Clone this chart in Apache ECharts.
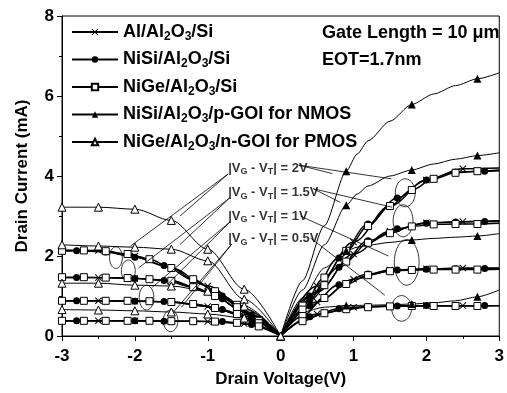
<!DOCTYPE html>
<html><head><meta charset="utf-8">
<script src="https://cdn.jsdelivr.net/npm/echarts@6/dist/echarts.min.js"></script>
<style>html,body{margin:0;padding:0;background:#fff}#c{width:507px;height:393px}</style>
</head><body><div id="c"></div><script>
// ---------- DATA ----------
// Legend names
const names = ['Al/Al2O3/Si', 'NiSi/Al2O3/Si', 'NiGe/Al2O3/Si', 'NiSi/Al2O3/p-GOI for NMOS', 'NiGe/Al2O3/n-GOI for PMOS'];

// NMOS side (positive drain voltage)
const xNsq = [0, 0.3, 0.6, 0.9, 1.2, 1.5, 1.8, 2.1, 2.4, 2.7, 3];
const nNiGe2  = [0, 0.76, 1.46, 2.13, 2.75, 3.25, 3.65, 3.93, 4.08, 4.12, 4.15];
const nNiGe15 = [0, 0.66, 1.27, 1.86, 2.33, 2.57, 2.74, 2.79, 2.80, 2.80, 2.82];
const nNiGe1  = [0, 0.50, 0.95, 1.30, 1.52, 1.62, 1.65, 1.66, 1.66, 1.66, 1.67];
const nNiGe05 = [0, 0.37, 0.57, 0.67, 0.72, 0.74, 0.75, 0.75, 0.75, 0.75, 0.76];

const xNci = [0, 0.4, 0.8, 1.2, 1.6, 2.0, 2.4, 2.8, 3];
const nNiSi2  = [0, 1.00, 1.95, 2.80, 3.45, 3.90, 4.10, 4.12, 4.13];
const nNiSi15 = [0, 0.90, 1.72, 2.38, 2.68, 2.82, 2.85, 2.86, 2.87];
const nNiSi1  = [0, 0.75, 1.28, 1.55, 1.65, 1.67, 1.68, 1.69, 1.69];
const nNiSi05 = [0, 0.48, 0.68, 0.74, 0.75, 0.76, 0.76, 0.76, 0.76];

const xNx = [0, 0.5, 1, 1.5, 2, 2.5, 3];
const nAl2  = [0, 1.25, 2.35, 3.25, 3.90, 4.18, 4.20];
const nAl15 = [0, 1.10, 2.05, 2.62, 2.83, 2.86, 2.88];
const nAl1  = [0, 0.85, 1.42, 1.65, 1.68, 1.70, 1.70];
const nAl05 = [0, 0.55, 0.72, 0.75, 0.76, 0.76, 0.76];

const xNtri = [0, 0.3, 0.6, 0.9, 1.05, 1.2, 1.5, 1.8, 2.1, 2.4, 2.7, 3];
const nGOI2  = [0, 1.38, 2.76, 4.12, 4.55, 4.88, 5.37, 5.79, 6.05, 6.26, 6.43, 6.58];
const nGOI15 = [0, 1.15, 2.28, 3.27, 3.55, 3.75, 4.00, 4.15, 4.30, 4.42, 4.51, 4.58];
const nGOI1  = [0, 0.95, 1.70, 2.13, 2.22, 2.27, 2.34, 2.40, 2.44, 2.47, 2.50, 2.56];
const nGOI05 = [0, 0.60, 0.72, 0.76, 0.765, 0.77, 0.78, 0.80, 0.83, 0.88, 0.98, 1.15];
const nGOImarks = [0.9, 1.8, 2.7];

// PMOS side (negative drain voltage, |Id|)
const xPsq = [-3, -2.7, -2.4, -2.1, -1.8, -1.5, -1.2, -0.9, -0.6, -0.3, 0];
const pNiGe2  = [2.13, 2.14, 2.12, 2.05, 1.92, 1.70, 1.42, 1.12, 0.78, 0.40, 0];
const pNiGe15 = [1.47, 1.47, 1.46, 1.45, 1.42, 1.38, 1.22, 1.00, 0.72, 0.38, 0];
const pNiGe1  = [0.88, 0.88, 0.88, 0.88, 0.87, 0.85, 0.80, 0.70, 0.55, 0.32, 0];
const pNiGe05 = [0.38, 0.38, 0.38, 0.38, 0.38, 0.37, 0.37, 0.36, 0.33, 0.24, 0];

const xPci = [-3, -2.8, -2.4, -2.0, -1.6, -1.2, -0.8, -0.4, 0];
const pNiSi2  = [2.12, 2.13, 2.10, 1.97, 1.76, 1.40, 1.00, 0.52, 0];
const pNiSi15 = [1.46, 1.46, 1.46, 1.44, 1.39, 1.22, 0.93, 0.50, 0];
const pNiSi1  = [0.88, 0.88, 0.88, 0.87, 0.86, 0.80, 0.66, 0.42, 0];
const pNiSi05 = [0.38, 0.38, 0.38, 0.38, 0.37, 0.37, 0.36, 0.29, 0];

const xPx = [-3, -2.5, -2, -1.5, -1, -0.5, 0];
const pAl2  = [2.15, 2.14, 2.00, 1.70, 1.25, 0.68, 0];
const pAl15 = [1.46, 1.46, 1.44, 1.38, 1.10, 0.62, 0];
const pAl1  = [0.88, 0.88, 0.87, 0.85, 0.74, 0.50, 0];
const pAl05 = [0.38, 0.38, 0.38, 0.37, 0.36, 0.31, 0];

const xPtri = [-3, -2.5, -2, -1.5, -1, -0.5, 0];
const pGOI2  = [3.22, 3.22, 3.17, 2.89, 2.17, 1.17, 0];
const pGOI15 = [2.28, 2.25, 2.22, 2.17, 1.88, 0.92, 0];
const pGOI1  = [1.32, 1.32, 1.27, 1.25, 1.12, 0.75, 0];
const pGOI05 = [0.66, 0.65, 0.63, 0.60, 0.55, 0.45, 0];

// Annotations
const biasLabels = ['2V', '1.5V', '1V', '0.5V'];
const biasLabelX = [-0.72, -0.72, -0.72, -0.72];
const biasLabelY = [4.20, 3.58, 3.00, 2.43];
const arrowLines = [
  [-0.72, 4.05, -1.38, 3.00], [-0.72, 4.05, -2.06, 2.25],
  [-0.70, 3.45, -1.38, 2.29], [-0.70, 3.45, -1.95, 1.70],
  [-0.69, 2.86, -1.55, 1.30], [-0.69, 2.86, -1.76, 1.22],
  [-0.67, 2.30, -1.36, 0.72], [-0.67, 2.30, -1.46, 0.62],
  [0.25, 4.27, 0.71, 4.06], [0.25, 4.27, 1.52, 3.93],
  [0.45, 3.68, 0.82, 3.34], [0.45, 3.68, 1.53, 3.22],
  [0.27, 3.00, 1.48, 2.00], [0.41, 2.45, 1.43, 1.02]
];
const ellipses = [
  [-2.26, 1.96, 0.088, 0.27], [-2.09, 1.63, 0.095, 0.27],
  [-1.84, 0.96, 0.10, 0.31], [-1.51, 0.38, 0.10, 0.27],
  [1.71, 3.58, 0.136, 0.35], [1.68, 2.88, 0.136, 0.40],
  [1.73, 1.84, 0.17, 0.57], [1.66, 0.69, 0.136, 0.32]
];

// ---------- CHART ----------
const FONT = '"Liberation Sans", Arial, sans-serif';
const crossPath = 'path://M0,1L1,0L5,4L9,0L10,1L6,5L10,9L9,10L5,6L1,10L0,9L4,5Z';
const sym = {
  x:   {symbol: crossPath, size: 7, fill: '#000', bw: 0},
  ci:  {symbol: 'circle', size: 7, fill: '#000', bw: 0},
  sq:  {symbol: 'rect', size: 7, fill: '#fff', bw: 1},
  tf:  {symbol: 'triangle', size: 8, fill: '#000', bw: 0},
  to:  {symbol: 'triangle', size: 8, fill: '#fff', bw: 1}
};
function mk(name, xs, ys, s, lw, show, sm) {
  return {
    type: 'line', name: name, smooth: sm, smoothMonotone: 'x',
    symbol: s.symbol, symbolSize: s.size, showAllSymbol: true,
    itemStyle: {color: s.fill, borderColor: '#000', borderWidth: s.bw},
    lineStyle: {color: '#000', width: lw},
    emphasis: {disabled: true},
    data: xs.map((x, i) => {
      const it = {value: [x, ys[i]]};
      if (!show(x)) it.symbol = 'none';
      return it;
    })
  };
}
const inner = x => x !== 0 && Math.abs(x) !== 3;
const series = [];
[nAl2, nAl15, nAl1, nAl05].forEach(ys => series.push(mk(names[0], xNx, ys, sym.x, 1.4, inner, 0.35)));
[pAl2, pAl15, pAl1, pAl05].forEach(ys => series.push(mk(names[0], xPx, ys, sym.x, 1.4, inner, 0.35)));
[nNiSi2, nNiSi15, nNiSi1, nNiSi05].forEach(ys => series.push(mk(names[1], xNci, ys, sym.ci, 1.4, inner, 0.35)));
[pNiSi2, pNiSi15, pNiSi1, pNiSi05].forEach(ys => series.push(mk(names[1], xPci, ys, sym.ci, 1.4, inner, 0.35)));
[nNiGe2, nNiGe15, nNiGe1, nNiGe05].forEach(ys => series.push(mk(names[2], xNsq, ys, sym.sq, 1.4, inner, 0.35)));
[pNiGe2, pNiGe15, pNiGe1, pNiGe05].forEach(ys => series.push(mk(names[2], xPsq, ys, sym.sq, 1.4, x => x !== 0, 0.35)));
[nGOI2, nGOI15, nGOI1, nGOI05].forEach(ys => series.push(mk(names[3], xNtri, ys, sym.tf, 1, x => nGOImarks.indexOf(x) >= 0, 0.25)));
[pGOI2, pGOI15, pGOI1, pGOI05].forEach(ys => series.push(mk(names[4], xPtri, ys, sym.to, 1, x => true, 0.3)));

// arrows
series.push({
  type: 'line', data: [], silent: true, symbol: 'none',
  markLine: {
    silent: true, animation: false, symbol: ['none', 'arrow'], symbolSize: [0, 7], precision: 4,
    label: {show: false}, emphasis: {disabled: true},
    lineStyle: {color: '#000', width: 0.8, type: 'solid'},
    data: arrowLines.map(a => [{coord: [a[0], a[1]]}, {coord: [a[2], a[3]]}])
  }
});
// ellipses
series.push({
  type: 'custom', silent: true, data: ellipses,
  renderItem: function (params, api) {
    const c = api.coord([api.value(0), api.value(1)]);
    const s = api.size([api.value(2), api.value(3)]);
    const pts = [];
    for (let k = 0; k < 48; k++) {
      const t = k / 48 * Math.PI * 2;
      pts.push([c[0] + s[0] * Math.cos(t), c[1] + s[1] * Math.sin(t)]);
    }
    return {type: 'polygon', shape: {points: pts}, style: {fill: 'none', stroke: '#000', lineWidth: 0.8}};
  }
});
// bias labels
series.push({
  type: 'scatter', silent: true, symbolSize: 0,
  data: biasLabels.map((t, i) => [biasLabelX[i], biasLabelY[i], t]),
  label: {
    show: true, position: 'right', distance: 0,
    formatter: p => '|V{s|G} - V{s|T}| = ' + p.value[2],
    fontFamily: FONT, fontSize: 13, fontWeight: 'bold', color: '#000',
    rich: {s: {fontFamily: FONT, fontSize: 9, fontWeight: 'bold', color: '#000', padding: [7, 0, 0, 0]}}
  }
});

const chart = echarts.init(document.getElementById('c'), null, {renderer: 'canvas'});
chart.setOption({
  animation: false,
  backgroundColor: '#fff',
  grid: {left: 62, top: 16, right: 3, bottom: 56, show: true, borderColor: '#000', borderWidth: 1, backgroundColor: 'transparent'},
  legend: {
    data: names, orient: 'vertical', left: 66, top: 18, itemGap: 8,
    itemWidth: 46, itemHeight: 8, selectedMode: false,
    formatter: n => n.replace('2O3', '{s|2}O{s|3}'),
    textStyle: {
      fontFamily: FONT, fontSize: 18, fontWeight: 'bold', color: '#000',
      rich: {s: {fontFamily: FONT, fontSize: 12, fontWeight: 'bold', color: '#000', padding: [9, 0, 0, 0]}}
    }
  },
  graphic: [
    {type: 'text', left: 322, top: 24, style: {text: 'Gate Length = 10 \u03bcm', font: 'bold 18px ' + FONT, fill: '#000'}},
    {type: 'text', left: 322, top: 51, style: {text: 'EOT=1.7nm', font: 'bold 18px ' + FONT, fill: '#000'}}
  ],
  xAxis: {
    type: 'value', min: -3, max: 3, interval: 1,
    name: 'Drain Voltage(V)', nameLocation: 'middle', nameGap: 35,
    nameTextStyle: {fontFamily: FONT, fontSize: 17, fontWeight: 'bold', color: '#000'},
    axisLine: {onZero: false, lineStyle: {color: '#000', width: 1}},
    axisTick: {show: true, length: 5, lineStyle: {color: '#000'}},
    minorTick: {show: true, splitNumber: 2, length: 3, lineStyle: {color: '#000'}},
    splitLine: {show: false},
    axisLabel: {fontFamily: FONT, fontSize: 17, fontWeight: 'bold', color: '#000', margin: 12}
  },
  yAxis: {
    type: 'value', min: 0, max: 8, interval: 2,
    name: 'Drain Current (mA)', nameLocation: 'middle', nameGap: 31,
    nameTextStyle: {fontFamily: FONT, fontSize: 17, fontWeight: 'bold', color: '#000'},
    axisLine: {show: true, onZero: false, lineStyle: {color: '#000', width: 1}},
    axisTick: {show: true, length: 5, lineStyle: {color: '#000'}},
    minorTick: {show: true, splitNumber: 2, length: 3, lineStyle: {color: '#000'}},
    splitLine: {show: false},
    axisLabel: {fontFamily: FONT, fontSize: 17, fontWeight: 'bold', color: '#000', margin: 8}
  },
  series: series
});
</script></body></html>
